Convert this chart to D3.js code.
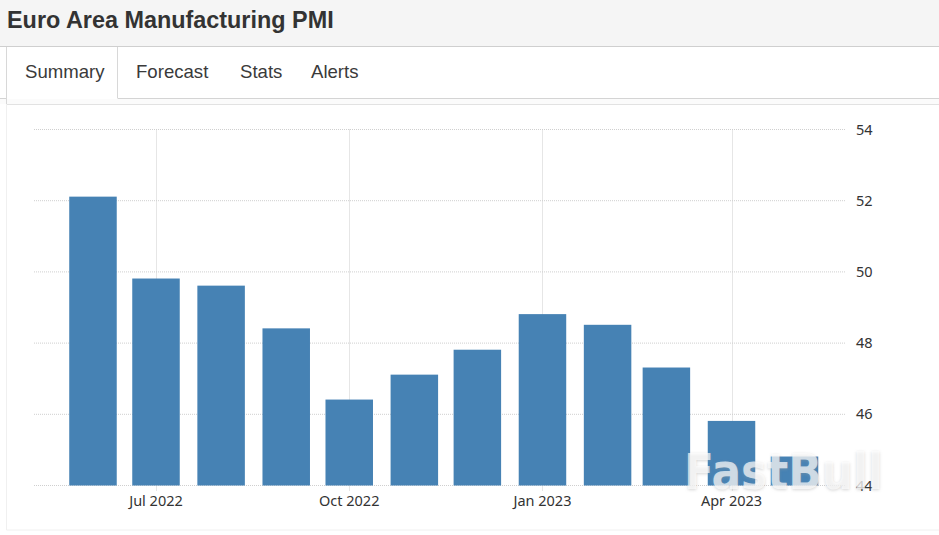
<!DOCTYPE html>
<html>
<head>
<meta charset="utf-8">
<script src="https://cdn.jsdelivr.net/npm/d3@7"></script>
<style>
html, body { margin: 0; padding: 0; background: #fff; overflow: hidden; }
svg { display: block; }
</style>
</head>
<body>
<script>
var months = ['2022-06', '2022-07', '2022-08', '2022-09', '2022-10', '2022-11', '2022-12', '2023-01', '2023-02', '2023-03', '2023-04', '2023-05'];
var values = [52.1, 49.8, 49.6, 48.4, 46.4, 47.1, 47.8, 48.8, 48.5, 47.3, 45.8, 44.8];
var xTickMonths = ['2022-07', '2022-10', '2023-01', '2023-04'];
var yTicks = [44, 46, 48, 50, 52, 54];
var tabs = ['Summary', 'Forecast', 'Stats', 'Alerts'];
var tabX = [25, 136, 240, 311];

var width = 939, height = 535;
var parseMonth = d3.utcParse('%Y-%m');
var sans = '"Liberation Sans", Arial, sans-serif';
var tickFont = '"Noto Sans", sans-serif';

var svg = d3.select('body').append('svg')
    .attr('width', width)
    .attr('height', height);

// page header
svg.append('rect').attr('width', width).attr('height', 46).attr('fill', '#f5f5f5');
svg.append('line').attr('x1', 0).attr('x2', width).attr('y1', 46.5).attr('y2', 46.5).attr('stroke', '#cfcfcf');
svg.append('text')
    .attr('x', 7).attr('y', 28)
    .attr('font-family', sans).attr('font-weight', 700).attr('font-size', 23.4)
    .attr('fill', '#333').text('Euro Area Manufacturing PMI');

// tab strip
svg.append('rect').attr('x', 0).attr('y', 98).attr('width', width).attr('height', 6).attr('fill', '#fbfbfb');
svg.append('line').attr('x1', 0).attr('x2', width).attr('y1', 98.5).attr('y2', 98.5).attr('stroke', '#d4d4d4');
svg.append('line').attr('x1', 7).attr('x2', width).attr('y1', 104.5).attr('y2', 104.5).attr('stroke', '#e2e2e2');
svg.append('rect').attr('x', 7).attr('y', 47).attr('width', 110.5).attr('height', 52).attr('fill', '#fff');
svg.append('path').attr('d', 'M6.5 47V104M117.5 47V98').attr('fill', 'none').attr('stroke', '#d8d8d8');
svg.selectAll('.tab')
    .data(tabs)
  .enter().append('text')
    .attr('class', 'tab')
    .attr('x', function(d, i) { return tabX[i]; })
    .attr('y', 78)
    .attr('font-family', sans).attr('font-size', 18.6)
    .attr('fill', '#3a3a3a')
    .text(function(d) { return d; });

// chart panel edges
svg.append('path').attr('d', 'M6.5 104V530H' + width).attr('fill', 'none').attr('stroke', '#f0f0f0');

var plotLeft = 34, plotRight = 845;
var xScale = d3.scaleUtc()
    .domain([parseMonth('2022-07'), parseMonth('2023-04')])
    .range([156, 731.5]);
var yScale = d3.scaleLinear()
    .domain([44, 54])
    .range([485.5, 129.5]);

// grid
svg.append('g').selectAll('line')
    .data(yTicks)
  .enter().append('line')
    .attr('x1', plotLeft).attr('x2', plotRight)
    .attr('y1', function(d) { return yScale(d); })
    .attr('y2', function(d) { return yScale(d); })
    .attr('stroke', '#cfcfcf').attr('stroke-dasharray', '1 1');
svg.append('g').selectAll('line')
    .data(xTickMonths)
  .enter().append('line')
    .attr('x1', function(d) { return Math.round(xScale(parseMonth(d))) + 0.5; })
    .attr('x2', function(d) { return Math.round(xScale(parseMonth(d))) + 0.5; })
    .attr('y1', 129.5).attr('y2', 491)
    .attr('stroke', '#cccccc').attr('stroke-dasharray', '1 1');

// bars
var barWidth = 47.5;
svg.append('g').selectAll('rect')
    .data(values)
  .enter().append('rect')
    .attr('x', function(d, i) { return xScale(parseMonth(months[i])) - barWidth / 2; })
    .attr('y', function(d) { return yScale(d) - 0.5; })
    .attr('width', barWidth)
    .attr('height', function(d) { return yScale(44) - yScale(d) + 0.5; })
    .attr('fill', '#4682b4');

// axis labels
svg.append('g').selectAll('text')
    .data(xTickMonths)
  .enter().append('text')
    .attr('x', function(d) { return xScale(parseMonth(d)); })
    .attr('y', 506)
    .attr('text-anchor', 'middle')
    .attr('font-family', tickFont).attr('font-size', 14.5)
    .attr('fill', '#333')
    .text(function(d) { return d3.utcFormat('%b %Y')(parseMonth(d)); });
svg.append('g').selectAll('text')
    .data(yTicks)
  .enter().append('text')
    .attr('x', 856)
    .attr('y', function(d) { return yScale(d) + 5; })
    .attr('font-family', tickFont).attr('font-size', 14.5)
    .attr('fill', '#333')
    .text(function(d) { return d; });

// watermark
var blur = svg.append('defs').append('filter').attr('id', 'wm').attr('x', '-10%').attr('y', '-30%').attr('width', '120%').attr('height', '160%');
blur.append('feGaussianBlur').attr('stdDeviation', 1.5);
svg.append('text')
    .attr('x', 684).attr('y', 490)
    .attr('font-family', 'DejaVu Sans').attr('font-weight', 700).attr('font-size', 50)
    .attr('textLength', 199).attr('lengthAdjust', 'spacingAndGlyphs')
    .attr('fill', '#9a9a9a').attr('fill-opacity', 0.4)
    .attr('filter', 'url(#wm)').text('FastBull');
svg.append('text')
    .attr('x', 684).attr('y', 489)
    .attr('font-family', 'DejaVu Sans').attr('font-weight', 700).attr('font-size', 50)
    .attr('textLength', 199).attr('lengthAdjust', 'spacingAndGlyphs')
    .attr('fill', '#fff').attr('fill-opacity', 0.7)
    .text('FastBull');
</script>
</body>
</html>
